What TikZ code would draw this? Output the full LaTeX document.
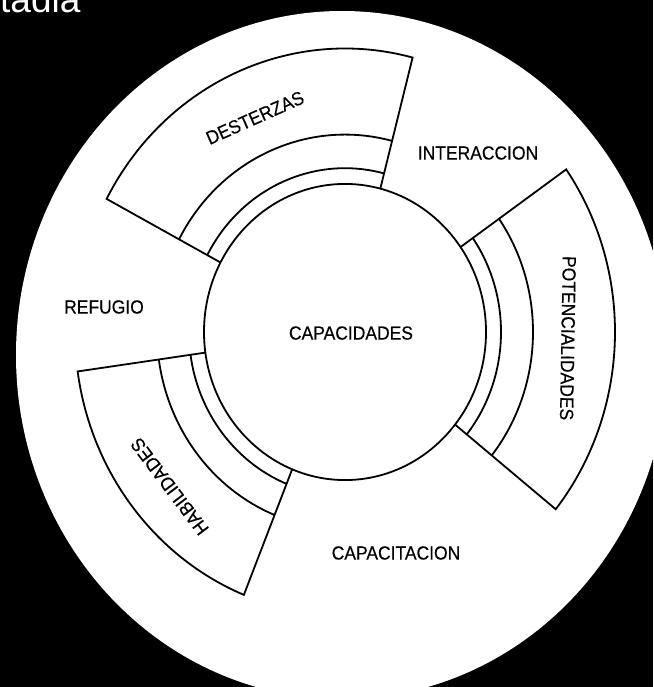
\documentclass[tikz,border=0pt]{standalone}
\usepackage{fontspec}
\setmainfont{Liberation Sans}
\newfontfamily\diagfont{Liberation Sans}[FakeStretch=0.92, FakeBold=0.4]
\usetikzlibrary{positioning}
\tikzset{
  % Settori e cerchi
  sector/.style={draw=black, line width=1.8pt, line join=miter},
  % Testi
  word/.style={font=\diagfont\fontsize{19}{21}\selectfont, inner sep=0pt, text=black},
  word big/.style={font=\fontsize{37}{40}\selectfont, inner sep=0pt, text=white}
}

\begin{document}
\begin{tikzpicture}[x=1pt, y=1pt]
    \useasboundingbox (0,0) rectangle (653,-687);
    \clip (0,0) rectangle (653,-687);
    \fill[black] (0,0) rectangle (653,-687);
    \fill[white] (342,-355) ellipse (326 and 344);
    \node[word big, anchor=base west] (Titulo) at (0,-13) {tadia};
    \begin{scope}[shift={(345,-332)}, yscale=1.05]
      \foreach \a/\b in {75.5/152, -38.7/35, 188/248} {
        \draw[sector] (\a:141) -- (\a:270) arc[start angle=\a, end angle=\b, radius=270] -- (\b:141);
        \draw[sector] (\a:156) arc[start angle=\a, end angle=\b, radius=156];
        \draw[sector] (\a:188) arc[start angle=\a, end angle=\b, radius=188];
      }
      \draw[sector] (0,0) circle (141);
      \node[word] (Capacidades)     at (6,-1)     {CAPACIDADES};
      \node[word, rotate=24]  (Desterzas)       at (113.8:223) {DESTERZAS};
      \node[word, rotate=-91] (Potencialidades) at (-1.5:223)  {POTENCIALIDADES};
      \node[word, rotate=127] (Habilidades)     at (220:229)   {HABILIDADES};
    \end{scope}
    \node[word] (Interaccion)  at (478,-153) {INTERACCION};
    \node[word] (Refugio)      at (104,-307) {REFUGIO};
    \node[word] (Capacitacion) at (396,-553) {CAPACITACION};
\end{tikzpicture}
\end{document}
